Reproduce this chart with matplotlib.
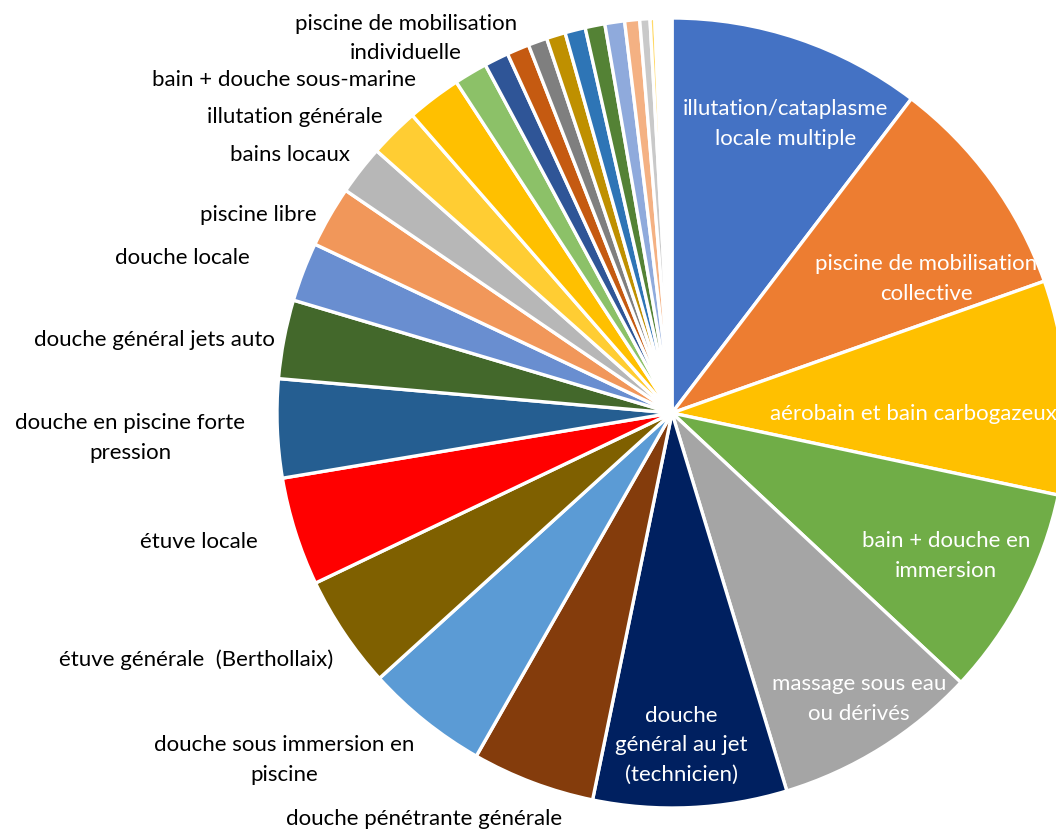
import matplotlib.pyplot as plt

plt.rcParams['font.family'] = ['Lato', 'DejaVu Sans']

# categories, clockwise from 12 o'clock
categories = [
    "illutation/cataplasme\nlocale multiple",
    "piscine de mobilisation\ncollective",
    "aérobain et bain carbogazeux",
    "bain + douche en\nimmersion",
    "massage sous eau\nou dérivés",
    "douche\ngénéral au jet\n(technicien)",
    "douche pénétrante générale",
    "douche sous immersion en\npiscine",
    "étuve générale  (Berthollaix)",
    "étuve locale",
    "douche en piscine forte\npression",
    "douche général jets auto",
    "douche locale",
    "piscine libre",
    "bains locaux",
    "illutation générale",
    "bain + douche sous-marine",
    "piscine de mobilisation\nindividuelle",
    "", "", "", "", "", "", "", "", "", "",
]
values = [37.3, 33.2, 31.5, 31.0, 30.1, 28.5, 18.1, 18.1, 16.7, 16.0,
          14.5, 11.6, 8.7, 9.0, 7.3, 7.3, 8.0, 4.9, 3.6, 3.3,
          2.8, 2.8, 3.0, 2.9, 2.9, 2.2, 1.5, 0.7, 2.5]
colors = ['#4472C4', '#ED7D31', '#FFC000', '#70AD47', '#A5A5A5', '#002060',
          '#843C0C', '#5B9BD5', '#7F6000', '#FF0000', '#255E91', '#43682B',
          '#698ED0', '#F1975A', '#B7B7B7', '#FFCD33', '#FFC000', '#8CC168',
          '#2F5597', '#C55A11', '#7F7F7F', '#BF9000', '#2E75B6', '#548235',
          '#8FAADC', '#F4B183', '#C9C9C9', '#FFD966', '#FFFFFF']

# label layout (pie radius = 1, centre = 0,0)
inside_pos = [(0.288, 0.731), (0.643, 0.339), (0.61, -0.003), (0.694, -0.362),
              (0.473, -0.724), (0.023, -0.841)]
outside_pos = [(-0.278, -1.028, 'right'), (-0.651, -0.879, 'right'),
               (-0.858, -0.625, 'right'), (-1.048, -0.326, 'right'),
               (-1.081, -0.063, 'right'), (-1.005, 0.185, 'right'),
               (-1.068, 0.392, 'right'), (-0.899, 0.501, 'right'),
               (-0.815, 0.653, 'right'), (-0.732, 0.749, 'right'),
               (-0.648, 0.843, 'right'), (-0.392, 0.948, 'right')]

fig = plt.figure(figsize=(10.56, 8.32), dpi=100)
ax = fig.add_axes([0, 0, 1, 1])
ax.pie(values, colors=colors, startangle=90, counterclock=False,
       wedgeprops=dict(edgecolor='white', linewidth=2.4))
ax.set_xlim(-672 / 395, 384 / 395)
ax.set_ylim(-419 / 395, 413 / 395)
ax.set_aspect('auto')
ax.axis('off')

for (x, y), lab in zip(inside_pos, categories[:6]):
    ax.text(x, y, lab, color='white', fontsize=16, ha='center', va='center',
            multialignment='center', linespacing=1.6)
for (x, y, ha), lab in zip(outside_pos, categories[6:18]):
    ax.text(x, y, lab, color='black', fontsize=16, ha=ha, va='center',
            multialignment='center', linespacing=1.6)

fig.savefig('out.png', dpi=100)
